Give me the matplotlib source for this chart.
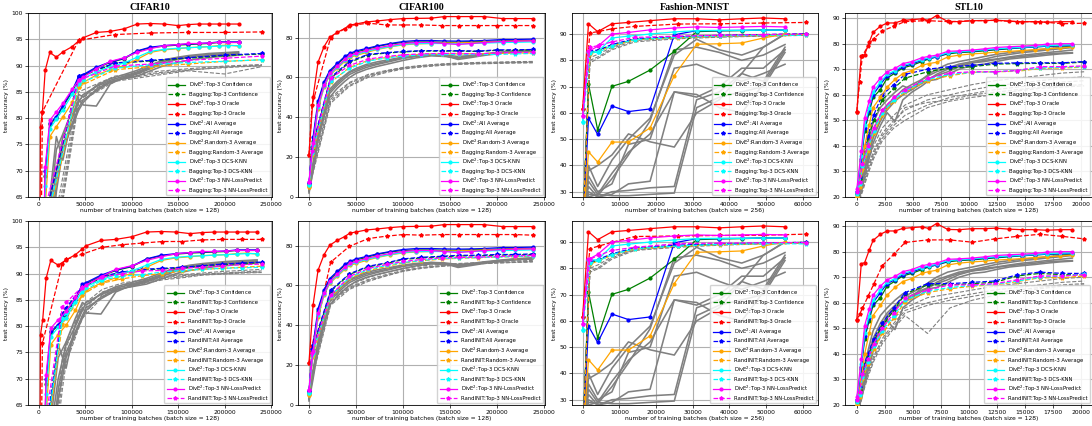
import matplotlib
matplotlib.use("Agg")
import matplotlib.pyplot as plt

# method names / colours (legend order)
METHODS = ["Top-3 Confidence", "Top-3 Oracle", "All Average",
           "Random-3 Average", "Top-3 DCS-KNN", "Top-3 NN-LossPredict"]
COLORS = ["green", "red", "blue", "orange", "cyan", "magenta"]

# ---------------- CIFAR10 ----------------
C10_X_DIVE_TOP = [0, 2000, 4000, 7000, 12000, 19000, 26000, 36000, 43000, 48000, 62000, 77000,
                  92000, 106000, 120000, 135000, 150000, 161000, 172000, 183000, 194000, 204000, 215000]
C10_X_DIVE_BOT = [0, 2000, 4300, 8000, 13000, 21000, 29500, 39500, 47000, 51000, 67000, 83000,
                  100000, 116000, 132000, 148000, 163000, 176000, 189000, 202000, 213000, 224000, 235000]
C10_DIVE = [
    [10, 30, 45, 69, 78.8, 80.1, 82.2, 85.0, 87.6, 88.1, 89.5, 90.6, 91.3, 92.7, 93.4, 93.7, 93.9, 94.0, 94.1, 94.2, 94.4, 94.4, 94.4],
    [10, 78.4, 81.2, 89.1, 92.5, 91.6, 92.6, 93.6, 94.7, 95.3, 96.3, 96.5, 97.0, 97.9, 98.0, 97.9, 97.6, 97.8, 97.9, 97.9, 97.9, 97.9, 97.9],
    [10, 30, 45, 70, 79.0, 80.3, 82.4, 85.2, 88.0, 88.3, 89.7, 90.7, 91.4, 92.8, 93.5, 93.8, 94.0, 94.1, 94.2, 94.3, 94.5, 94.5, 94.5],
    [10, 25, 38, 63, 76.5, 78.4, 80.2, 83.0, 86.0, 86.8, 88.2, 89.2, 90.0, 91.2, 92.5, 93.0, 93.2, 93.4, 93.5, 93.6, 93.8, 93.9, 93.7],
    [10, 28, 42, 67, 78.0, 79.8, 81.6, 84.5, 86.8, 87.5, 88.8, 89.8, 90.5, 91.6, 92.7, 93.1, 93.3, 93.4, 93.5, 93.6, 93.7, 93.8, 93.8],
    [10, 32, 48, 70.8, 79.6, 81.2, 82.8, 85.5, 87.2, 87.8, 89.4, 90.8, 91.5, 92.5, 93.2, 93.8, 94.0, 94.2, 94.2, 94.3, 94.4, 94.4, 94.4],
]
C10_DIVE_MEMBERS = [
    [10, 15, 22, 40, 60, 70, 76.5, 80, 83, 84.5, 86, 87.2, 88.0, 88.8, 89.8, 90.8, 91.4, 91.7, 91.9, 92.0, 92.1, 92.2, 92.3],
    [10, 14, 20, 35, 55, 68, 75, 79, 82, 83.5, 85.2, 86.8, 87.6, 88.4, 89.4, 90.5, 91.2, 91.5, 91.7, 91.9, 92.0, 92.1, 92.2],
    [10, 16, 25, 45, 65, 76.5, 72, 80.5, 83.5, 82.5, 82.3, 86.5, 87.8, 88.6, 89.6, 90.9, 91.5, 91.7, 91.9, 92.1, 92.2, 92.4, 92.5],
    [10, 15, 23, 42, 62, 74, 77, 81.5, 84.5, 84.0, 86.2, 87.5, 88.3, 89.1, 90.1, 91.1, 91.6, 91.9, 92.1, 92.3, 92.4, 92.5, 92.6],
    [10, 13, 18, 33, 52, 66, 74, 78.5, 81.5, 83, 85.5, 87, 87.5, 88.0, 89.0, 90.0, 90.6, 91.0, 91.3, 91.5, 91.7, 91.8, 92.0],
]
C10_X_BAG = [0, 4000, 43000, 82000, 121000, 161000, 200000, 240000]
C10_BAG = [
    [10, 59, 87.8, 90.4, 90.9, 91.4, 91.9, 92.2],
    [10, 81.2, 94.8, 95.9, 96.2, 96.3, 96.3, 96.4],
    [10, 59, 88.0, 90.5, 91.0, 91.5, 92.0, 92.3],
    [10, 56, 86.0, 89.2, 89.8, 90.3, 90.8, 91.1],
    [10, 57, 86.5, 89.5, 90.2, 90.6, 90.8, 91.1],
    [10, 61, 87.2, 89.9, 90.3, 91.0, 91.4, 91.8],
]
C10_BAG_MEMBERS = [
    [10, 45, 84, 87.5, 88.5, 89.2, 89.6, 90.0],
    [10, 40, 83, 87, 88, 89, 88.4, 89.8],
    [10, 48, 85, 88, 88.8, 89.4, 89.9, 90.2],
    [10, 42, 83.5, 87.2, 88.3, 89.1, 89.7, 90.1],
]
C10_X_RAND = [0, 4000, 25500, 29500, 47000, 68500, 90000, 111500, 133000, 154500, 176000, 197500, 219000, 240000]
C10_RAND = [
    [10, 55, 82.2, 83.3, 87.3, 89.3, 90.2, 90.7, 90.9, 91.1, 91.4, 91.7, 91.9, 92.1],
    [10, 76.7, 91.9, 92.7, 93.7, 95.0, 95.5, 95.8, 96.1, 96.1, 96.4, 96.5, 96.5, 96.5],
    [10, 55, 82.4, 83.5, 87.5, 89.5, 90.3, 90.8, 91.0, 91.2, 91.5, 91.8, 92.0, 92.2],
    [10, 52, 80.5, 81.5, 86.0, 88.2, 89.0, 89.6, 90.0, 90.5, 90.8, 91.0, 91.2, 91.4],
    [10, 54, 81.5, 82.5, 86.5, 88.8, 89.5, 89.8, 90.3, 90.6, 90.8, 91.0, 91.1, 91.2],
    [10, 58, 83.6, 84.5, 87.5, 89.3, 90.0, 90.5, 90.6, 91.0, 91.2, 91.5, 91.7, 91.8],
]
C10_RAND_MEMBERS = [
    [10, 40, 72, 76, 83, 86.5, 87.8, 88.5, 89.2, 89.6, 89.9, 90.1, 90.3, 90.5],
    [10, 38, 70, 74.5, 82, 86, 87.5, 88.2, 89.0, 89.4, 89.8, 90.0, 90.2, 90.3],
    [10, 42, 74, 77, 84, 87, 88.2, 88.8, 89.4, 89.8, 90.1, 90.4, 90.6, 90.8],
    [10, 36, 68, 73, 81.5, 85.5, 87.2, 88.0, 88.8, 89.2, 89.7, 89.9, 90.1, 90.2],
]

# ---------------- CIFAR100 ----------------
C100_X_DIVE = [0, 4300, 9600, 16000, 22000, 30000, 38000, 43300, 50000, 61000, 72500, 86500,
               100000, 114000, 130000, 144000, 158500, 172700, 186000, 206000, 219000, 238000]
C100_DIVE = [
    [6, 28, 47, 57, 62.8, 66.5, 70, 71.5, 72.8, 74, 75.5, 76.8, 77.5, 77.8, 77.8, 77.6, 77.7, 77.9, 78, 78.3, 78.5, 78.6],
    [21.3, 50, 67.6, 75.4, 80.1, 82.6, 84.5, 86.2, 86.8, 87.8, 88.3, 89.0, 89.5, 89.6, 89.7, 90.5, 90.5, 90.5, 90.5, 89.5, 89.5, 89.5],
    [7, 30, 48.3, 57.8, 63.4, 67, 70.5, 72, 73.3, 74.5, 75.8, 77, 78, 78.5, 78.5, 78.3, 78.2, 78.3, 78.5, 79, 79, 79.2],
    [5, 25, 44, 55, 61, 64.5, 68, 70, 71, 72.5, 74, 75.3, 76.3, 76.8, 77, 77.2, 77.3, 77.5, 77.7, 78, 78.2, 78.3],
    [6, 26, 45, 55.5, 61.5, 65, 68.5, 70.5, 71.5, 73, 74.3, 75.5, 76.5, 77, 77, 77, 76.8, 77, 77.2, 77.5, 77.6, 77.8],
    [7.5, 27, 46, 56, 62, 65.5, 69, 71, 72, 73.5, 74.8, 76, 77, 77.5, 77.5, 77, 76.5, 77, 77.5, 78, 78.2, 78.3],
]
C100_DIVE_MEMBERS = [
    [3, 15, 30, 42, 52, 56, 59.5, 61.5, 63, 65, 66.5, 68, 69.5, 70.5, 71.2, 70.8, 69.5, 70.5, 71.5, 72.5, 73, 73.5],
    [4, 17, 32, 44, 54, 58, 61, 63, 64.5, 66.5, 67.8, 69, 70.2, 71, 71.5, 71, 69, 70, 71, 72.2, 72.8, 73.2],
    [2, 13, 28, 40, 50, 54.5, 58, 60, 62, 64, 65.5, 67, 68.5, 69.8, 70.8, 70.5, 70, 70.8, 71.5, 72.5, 73.2, 73.8],
    [3, 16, 31, 43, 53, 57, 60.5, 62.5, 63.8, 65.8, 67, 68.5, 69.8, 70.8, 71.5, 71.3, 70.5, 71, 71.8, 72.8, 73.3, 73.7],
]
C100_X_BASE = [0, 3200, 23000, 43000, 63000, 82500, 100000, 119500, 141000, 160000, 180000, 200000, 219000, 238000]
C100_BAG = [
    [6, 24, 59.5, 67.5, 71.3, 72.2, 72.8, 73.2, 73.2, 73.2, 73.0, 73.6, 73.6, 73.8],
    [21, 46, 80, 86, 87.2, 86.3, 86.3, 86.3, 86, 86, 86, 86, 86, 86],
    [7, 25, 60, 68, 71.6, 72.4, 73, 73.4, 73.4, 73.4, 73.2, 73.8, 73.8, 74],
    [5, 21, 57.5, 65, 68.5, 70, 71, 71.5, 71.7, 71.8, 71.8, 72, 72.2, 72.3],
    [6, 22, 58, 64.5, 68.2, 69.8, 70.7, 71.3, 71.5, 71.5, 71.5, 71.5, 71.8, 72],
    [7.5, 23, 59.5, 66, 69.2, 70.5, 71.3, 71.8, 72, 72, 71.8, 72.3, 72.5, 72.5],
]
C100_BAG_MEMBERS = [
    [3, 12, 48, 56, 60.5, 63, 64.5, 65.5, 66.3, 66.8, 67, 67.2, 67.4, 67.5],
    [2, 10, 47, 55.5, 60, 62.5, 64.2, 65.2, 66, 66.5, 66.8, 67, 67.2, 67.3],
    [4, 14, 50, 57.5, 61.5, 63.5, 65, 66, 66.8, 67.2, 67.5, 67.7, 67.9, 68],
    [3, 11, 49, 57, 61, 63.2, 64.8, 65.8, 66.5, 67, 67.2, 67.4, 67.6, 67.8],
]
C100_RAND = [
    [6, 27, 57, 65.5, 69.3, 71, 73, 73.8, 74.3, 74.8, 74.8, 75.2, 75.2, 75.5],
    [21, 29.5, 71.6, 79.6, 83.5, 84.7, 85.5, 85.2, 85.5, 85.5, 85.5, 85.5, 85.5, 85.2],
    [7, 28, 57.5, 65.8, 69.6, 71.3, 73.3, 74.1, 74.6, 75.1, 75.1, 75.5, 75.5, 75.8],
    [5, 24, 54, 63.5, 67.5, 69.5, 71.2, 72.3, 73.2, 73.6, 73.9, 74.2, 74.4, 74.6],
    [6, 25, 54.5, 64, 68, 70, 71.5, 72.5, 73.5, 73.8, 74, 74.3, 74.5, 74.8],
    [7.5, 26, 55, 64.5, 68.5, 70.5, 72, 73, 73.8, 74, 74.2, 74.5, 74.8, 75],
]
C100_RAND_MEMBERS = [
    [3, 15, 52, 59, 63, 65.5, 67.5, 69, 70, 70.5, 71, 71.5, 71.8, 72],
    [2, 13, 50, 58, 62, 64.8, 67, 68.5, 69.5, 70.2, 70.8, 71.2, 71.5, 71.8],
    [4, 16, 53, 60, 64, 66.5, 68.3, 69.8, 70.6, 71, 71.5, 72, 72.3, 72.5],
    [3, 14, 51, 58.5, 62.5, 65, 67.2, 68.8, 69.8, 70.3, 70.9, 71.3, 71.6, 71.9],
]

# ---------------- Fashion-MNIST ----------------
FM_X_DIVE = [0, 1600, 4100, 8000, 12500, 18400, 25000, 31100, 37300, 43400, 49300, 55200]
FM_DIVE = [
    [15, 71, 53.5, 70.1, 72, 76.3, 83.4, 90.9, 91.2, 91.3, 91.5, 91.5],
    [61.5, 93.9, 90.9, 93.9, 94.4, 95.1, 95.8, 95.8, 95.4, 95.8, 96.1, 95.8],
    [15, 58, 51.8, 62.6, 60.5, 61.5, 89.7, 91.3, 91.3, 91.4, 91.5, 91.5],
    [15, 45.2, 41.3, 48.9, 48.9, 54.3, 74.2, 86.1, 86.3, 86.6, 88.5, 90],
    [56.6, 83.2, 83.2, 88.5, 89.2, 90.0, 90.8, 91.3, 91.4, 91.4, 91.5, 91.5],
    [58.7, 83.4, 85.3, 90, 90.6, 91.6, 92.3, 92.7, 92.5, 92.7, 92.9, 92.7],
]
FM_DIVE_MEMBERS = [
    [20, 40, 32, 42, 50, 58, 82, 88, 84, 82, 85, 90],
    [20, 34, 29, 37, 45, 52, 68, 66, 70, 77, 77, 84],
    [20, 30, 28, 30, 30.5, 31.5, 32, 65, 68, 75, 72, 85],
    [20, 28, 29, 28.5, 28.5, 29, 29.5, 62, 66, 68, 70, 83],
    [20, 36, 30, 33, 48, 50, 77, 78.5, 75, 72, 75, 78.5],
    [20, 29, 28.5, 35, 44, 57, 84, 85, 83, 80, 82, 86],
    [20, 32, 28, 29, 33, 34, 68, 67, 62, 60, 71, 84],
    [20, 38, 40, 44, 52, 49, 47, 60, 65, 75, 85, 90],
]
FM_X_BASE = [0, 2000, 4500, 8000, 14200, 26000, 37500, 49300, 61000]
FM_BAG = [
    [15, 83, 83.8, 85.8, 88, 88.8, 89.4, 89.7, 90],
    [61.5, 90.4, 91, 92, 92.9, 93.8, 93.9, 94.2, 94.4],
    [15, 83.5, 84, 86, 88.2, 89, 89.5, 89.8, 90.1],
    [15, 82.5, 83.5, 85.5, 87.8, 88.6, 89.2, 89.5, 89.8],
    [56.6, 82.8, 83.2, 85.6, 87.9, 88.7, 89.3, 89.6, 89.5],
    [58.7, 84.9, 85.7, 87, 88.7, 89.2, 89.5, 89.8, 90],
]
FM_BAG_MEMBERS = [
    [15, 80, 81.5, 84.5, 87.5, 88.5, 89, 89.3, 89.6],
    [15, 79, 81, 84, 87, 88.2, 88.8, 89.2, 89.5],
    [15, 81, 82.5, 85, 88, 88.8, 89.3, 89.6, 89.8],
]
FM_RAND = [
    [15, 82, 83.2, 85.3, 87.6, 88.6, 89.2, 89.5, 89.8],
    [61.5, 87.5, 88.5, 89.9, 92.1, 92.3, 92.5, 92.6, 93],
    [15, 82.5, 83.5, 85.5, 87.8, 88.8, 89.3, 89.6, 89.9],
    [15, 81.5, 83, 85, 87.4, 88.4, 89, 89.3, 89.6],
    [56.6, 82, 83, 85.2, 87.5, 88.5, 89.1, 89.4, 89.3],
    [58.7, 83.5, 85, 86.8, 88, 89.4, 89.6, 89.7, 89.8],
]
FM_RAND_MEMBERS = [
    [15, 79, 80.5, 84, 87, 88.3, 89, 89.5, 89.8],
    [15, 78.5, 80, 83.5, 86.8, 88, 88.8, 89.3, 89.6],
    [15, 80, 81.5, 84.5, 87.3, 88.5, 89.2, 89.6, 90],
]

# ---------------- STL10 ----------------
STL_X_DIVE = [0, 400, 700, 1100, 1450, 2100, 2700, 3400, 4100, 4900, 5800, 6400, 7100, 8100,
              9100, 10300, 11400, 12400, 13600, 14700, 15900, 16900, 18100, 19200]
STL_DIVE = [
    [21, 34, 46, 53, 59, 62, 66.5, 68.5, 70.5, 71.5, 73, 74, 74.8, 76, 76.5, 76.8, 77.2, 77.6, 78, 78.4, 78.7, 79, 79.1, 79.2],
    [53.4, 75.3, 75.7, 80.5, 84.4, 86.8, 88.1, 88.1, 89.1, 89.4, 89.7, 89.1, 91.0, 88.7, 88.6, 89.0, 89.0, 89.2, 88.8, 88.6, 88.6, 88.4, 88.6, 88.6],
    [22, 35, 47, 54, 60, 64, 67.5, 69, 71, 72, 73.5, 74.2, 74.8, 76.3, 76.8, 77, 77.5, 77.8, 78.2, 78.5, 78.8, 79, 79.2, 79.3],
    [20, 30, 40, 48, 55, 59, 63, 66, 68.3, 69.5, 71.5, 72.2, 72.7, 74.8, 75.5, 76, 76.3, 76.7, 77, 77.3, 77.7, 78, 78.3, 78.6],
    [22, 36, 48, 55, 61, 65, 68, 69.5, 71.5, 72.5, 73.8, 74.5, 75, 76.5, 76.8, 77.2, 77.6, 78, 78.3, 78.6, 78.9, 79.2, 79.4, 79.5],
    [23, 38, 51, 57.5, 63, 66.5, 69, 70.3, 72.2, 73, 74.5, 75, 75.5, 77, 77.2, 77.5, 78, 78.5, 78.8, 79, 79.3, 79.8, 80, 80],
]
STL_DIVE_MEMBERS = [
    [18, 25, 33, 40, 46, 52, 56, 59, 62, 64, 66, 67.5, 69, 70.5, 72, 73, 74, 75, 75.8, 76.5, 77, 77.5, 78, 78.5],
    [17, 23, 30, 37, 43, 50, 54, 57.5, 60, 62, 64.5, 66, 67.5, 69, 71, 72.5, 73.5, 74, 74.8, 75.5, 76, 76.5, 77, 77.5],
    [19, 27, 36, 43, 49, 55, 58, 61, 63.5, 62, 66, 68, 70, 72, 73, 74, 75, 75.8, 76.5, 77, 77.5, 78, 78.5, 79],
    [18, 24, 31, 38, 44, 50, 55, 58, 60, 63, 65, 66, 68, 70, 71.5, 72.5, 73, 73.8, 74.5, 75, 75.5, 76, 76.3, 76.5],
    [17, 22, 28, 35, 41, 48, 53, 49.5, 58, 61, 63.5, 65.5, 66, 68, 70, 71.5, 72, 73, 74, 74.5, 75, 75.5, 76, 76.3],
]
STL_X_BASE = [0, 250, 500, 1000, 1500, 2270, 3300, 4300, 6300, 8300, 10300, 12300, 14300, 16300, 18300, 20250]
STL_BAG = [
    [21, 27, 35, 43, 50, 58, 62.5, 66.5, 69, 70.5, 71, 72, 72.2, 72.3, 72.3, 72.8],
    [53.4, 65, 75.3, 79, 82, 85, 86.8, 88.7, 89, 88.6, 89, 89.1, 88.6, 88.6, 87.8, 88],
    [22, 28, 36, 44, 52, 60, 64, 68, 70, 71, 71.5, 72.3, 72.5, 72.5, 72.5, 73],
    [20, 24, 31, 38, 45, 52, 57.5, 61, 65.5, 67.5, 68.8, 69, 69.2, 70.3, 70.5, 70.8],
    [21, 25, 32, 39, 46, 53, 58, 61.5, 66, 68, 68.8, 69, 69.5, 70.5, 70.8, 71],
    [22, 26, 33, 40, 47, 54, 59, 62, 66.5, 68.5, 69, 69, 69.5, 71, 71, 71.3],
]
STL_BAG_MEMBERS = [
    [18, 20, 25, 32, 38, 45, 50, 54, 58, 60, 62, 63.5, 64.5, 65.5, 66.5, 67],
    [17, 19, 23, 30, 36, 43, 48, 52, 56, 59, 60.5, 62, 63, 64, 65, 65.5],
    [19, 21, 27, 34, 40, 47, 52, 56, 60, 62, 64, 65.5, 66.5, 67.5, 68.5, 69],
    [18, 20, 24, 31, 37, 44, 49, 55, 57, 58, 60, 61, 62, 63, 63.5, 64],
    [17, 19, 22, 29, 35, 42, 47, 50, 55, 57.5, 59, 60, 61.5, 62.5, 63, 63.5],
]
STL_RAND = [
    [21, 26, 33, 39, 45, 51, 57, 63.5, 67, 67, 67.5, 68, 70.5, 71.5, 71, 71],
    [53.4, 55.5, 57.8, 62.5, 67.2, 74.5, 79, 83.6, 84.6, 84.6, 83.7, 85, 86, 86.8, 86, 85],
    [22, 27, 34, 40, 46, 52, 58, 64, 67.5, 67.5, 68, 68.5, 71, 72, 71.5, 71.5],
    [20, 23, 30, 36, 42, 48, 54, 60.5, 64, 65.5, 66.5, 67, 68.3, 69.8, 69.8, 70.5],
    [21, 24, 31, 37, 43, 49, 55, 61, 64.5, 66, 66.8, 67.3, 68.5, 70, 70.5, 71.2],
    [22, 25, 32, 38, 44, 50, 56, 62, 65, 67, 67, 67.5, 69, 70.5, 70.5, 71],
]
STL_RAND_MEMBERS = [
    [18, 20, 26, 33, 39, 46, 52, 57, 60, 62, 63.5, 65, 66, 67, 68, 68.5],
    [17, 19, 24, 31, 37, 44, 50, 55, 48, 58, 61, 63, 64, 65.5, 66.5, 67],
    [19, 21, 28, 35, 41, 48, 54, 58, 62, 63.5, 65, 66.5, 67.5, 68.5, 69.5, 70],
    [18, 20, 25, 32, 38, 45, 51, 56, 59, 61, 62.5, 64, 65, 66, 67, 67.5],
]

FS = 4.3
LEG_FS = 3.8


def draw(ax, x_dive, dive, dive_members, x_base, base, base_members, base_name,
         xlim, ylim, xticks, yticks, batch, title=None):
    for m in dive_members:
        ax.plot(x_dive, m, color="gray", lw=1.15, zorder=1)
    for m in base_members:
        ax.plot(x_base, m, color="gray", lw=0.8, ls="--", zorder=1)
    for i, (name, c) in enumerate(zip(METHODS, COLORS)):
        ax.plot(x_dive, dive[i], color=c, lw=0.9, marker="o", ms=2.0, zorder=3,
                label="DivE$^2$:" + name)
        ax.plot(x_base, base[i], color=c, lw=0.9, ls="--", marker="*", ms=2.8, zorder=3,
                label=base_name + ":" + name)
    ax.set_xlim(*xlim)
    ax.set_ylim(*ylim)
    ax.set_xticks(xticks)
    ax.set_yticks(yticks)
    ax.grid(True, color="#b0b0b0", lw=0.8)
    ax.set_axisbelow(True)
    ax.tick_params(labelsize=FS, length=2, width=0.5, pad=1.5)
    for s in ax.spines.values():
        s.set_linewidth(0.6)
    ax.set_ylabel("test accuracy (%)", fontsize=FS, labelpad=2)
    ax.set_xlabel("number of training batches (batch size = %d)" % batch, fontsize=FS, labelpad=1)
    ax.legend(loc="lower right", fontsize=LEG_FS, labelspacing=0.36, handlelength=3.2,
              borderaxespad=0.3, borderpad=0.5, handletextpad=0.8, framealpha=0.85)
    if title:
        ax.set_title(title, fontsize=7.2, fontweight="bold", family="Liberation Serif", pad=2)


fig = plt.figure(figsize=(10.92, 4.26), dpi=100)
W, H = 1092.0, 426.0
cols = [(28, 272), (298, 545), (572, 818), (845, 1092)]
rows = [(13, 197), (221, 405)]


def make_ax(c, r):
    l, rr = cols[c]
    t, b = rows[r]
    return fig.add_axes([l / W, 1 - b / H, (rr - l) / W, (b - t) / H])


c10_xt = [0, 50000, 100000, 150000, 200000, 250000]
c10_yt = [65, 70, 75, 80, 85, 90, 95, 100]
c100_yt = [0, 20, 40, 60, 80]
fm_xt = [0, 10000, 20000, 30000, 40000, 50000, 60000]
fm_yt = [30, 40, 50, 60, 70, 80, 90]
stl_xt = [0, 2500, 5000, 7500, 10000, 12500, 15000, 17500, 20000]
stl_yt = [20, 30, 40, 50, 60, 70, 80, 90]

for r, (name, c10b, c100b, fmb, stlb, c10bm, c100bm, fmbm, stlbm) in enumerate([
        ("Bagging", C10_BAG, C100_BAG, FM_BAG, STL_BAG,
         C10_BAG_MEMBERS, C100_BAG_MEMBERS, FM_BAG_MEMBERS, STL_BAG_MEMBERS),
        ("RandINIT", C10_RAND, C100_RAND, FM_RAND, STL_RAND,
         C10_RAND_MEMBERS, C100_RAND_MEMBERS, FM_RAND_MEMBERS, STL_RAND_MEMBERS)]):
    top = r == 0
    draw(make_ax(0, r), C10_X_DIVE_TOP if top else C10_X_DIVE_BOT, C10_DIVE, C10_DIVE_MEMBERS,
         C10_X_BAG if top else C10_X_RAND, c10b, c10bm, name,
         (-11500, 251000), (65, 100), c10_xt, c10_yt, 128, "CIFAR10" if top else None)
    draw(make_ax(1, r), C100_X_DIVE, C100_DIVE, C100_DIVE_MEMBERS, C100_X_BASE, c100b, c100bm, name,
         (-11700, 251000), (0, 92.3), c10_xt, c100_yt, 128, "CIFAR100" if top else None)
    draw(make_ax(2, r), FM_X_DIVE, FM_DIVE, FM_DIVE_MEMBERS, FM_X_BASE, fmb, fmbm, name,
         (-2900, 64200), (28, 98), fm_xt, fm_yt, 256, "Fashion-MNIST" if top else None)
    draw(make_ax(3, r), STL_X_DIVE, STL_DIVE, STL_DIVE_MEMBERS, STL_X_BASE, stlb, stlbm, name,
         (-1050, 20950), (20, 92), stl_xt, stl_yt, 128, "STL10" if top else None)

fig.savefig("out.png", dpi=100)
